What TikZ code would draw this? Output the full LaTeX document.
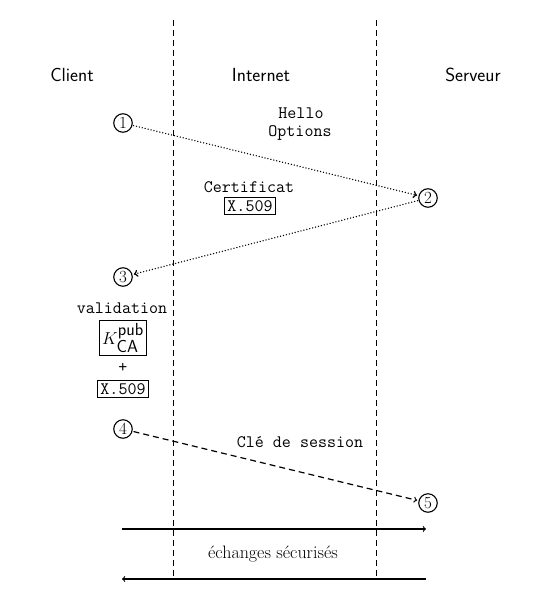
\documentclass[tikz,border=0pt]{standalone}
\usepackage{fontspec}
\usetikzlibrary{arrows}
\begin{document}
\begin{tikzpicture}[x=1pt,y=-1pt,
  base/.style={font=\fontsize{18}{21}\selectfont},
  head/.style={font=\fontsize{19}{22}\selectfont\sffamily},
  tt/.style={font=\fontsize{17.5}{20}\selectfont\ttfamily, inner sep=0pt},
  boxed/.style={draw, line width=0.9pt, inner sep=3pt, font=\fontsize{17.5}{20}\selectfont\ttfamily},
  num/.style={circle, draw, line width=1.1pt, inner sep=0pt, minimum size=18.5pt, font=\fontsize{17}{19}\selectfont},
  sep/.style={line width=0.8pt, dash pattern=on 6pt off 4pt},
  msg/.style={line width=1.2pt, ->, >=to, shorten >=1.5pt, shorten <=1pt},
  dots/.style={line cap=round, dash pattern=on 0.01pt off 3pt, line width=1.5pt},
  dashline/.style={dash pattern=on 6pt off 4pt}
]
\useasboundingbox (0,0) rectangle (552,600);
% lane separators
\coordinate (s1t) at (173,20);  \coordinate (s1b) at (173,578);
\coordinate (s2t) at (376,20);  \coordinate (s2b) at (376,578);
\draw[sep] (s1t) -- (s1b);
\draw[sep] (s2t) -- (s2b);
% headers
\node[head] (client) at (72,75) {Client};
\node[head] (internet) at (261,75) {Internet};
\node[head] (serveur) at (473,75) {Serveur};
% steps
\node[num] (c1) at (123,123) {1};
\node[num] (c2) at (428,198) {2};
\node[num] (c3) at (123,277) {3};
\node[num] (c4) at (123,429) {4};
\node[num] (c5) at (428,503) {5};
% messages
\node[tt] (hello) at (301,113) {Hello};
\node[tt] (options) at (300,133) {Options};
\draw[msg, dots] (c1) -- (c2);
\node[tt] (certif) at (249,187) {Certificat};
\node[boxed] (x509a) at (250,206) {X.509};
\draw[msg, dots] (c2) -- (c3);
\node[tt] (valid) at (122,308) {validation};
\node[draw, line width=0.9pt, inner sep=3pt, font=\fontsize{17.5}{20}\selectfont] (kca) at (123,338) {$K^{\textsf{pub}}_{\textsf{CA}}$};
\node[tt] (plus) at (123,368) {+};
\node[boxed] (x509b) at (123,389) {X.509};
\node[tt] (cle) at (300,442) {Clé de session};
\draw[msg, dashline] (c4) -- (c5);
% secure exchanges
\coordinate (r1) at (122,529); \coordinate (r2) at (426,529);
\coordinate (l1) at (426,579); \coordinate (l2) at (122,579);
\draw[line width=1.1pt, ->, >=to] (r1) -- (r2);
\draw[line width=1.1pt, ->, >=to] (l1) -- (l2);
\node[base] (ech) at (273,554) {échanges sécurisés};
\end{tikzpicture}
\end{document}
